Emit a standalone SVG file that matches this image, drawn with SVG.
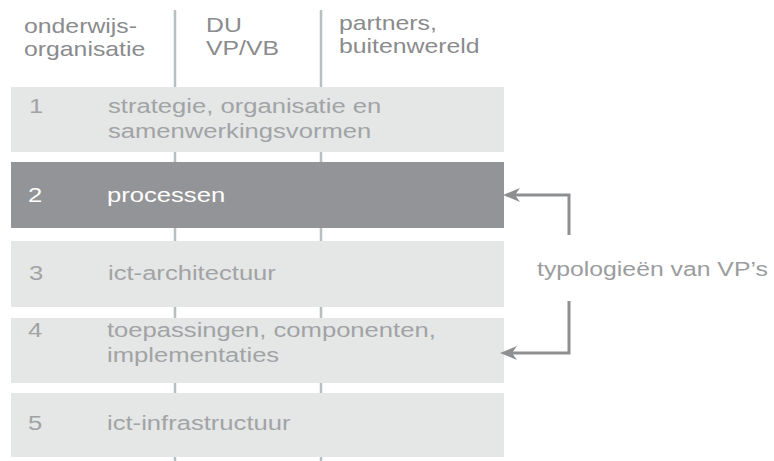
<svg xmlns="http://www.w3.org/2000/svg" width="774" height="461" viewBox="0 0 774 461">
  <style>
    text { font-family: "Liberation Sans", Arial, Helvetica, sans-serif; font-size: 21px; }
    .hdr { fill: #8a8b8d; font-size: 20px; }
    .lbl { fill: #a2a3a5; }
    .lbl-on { fill: #ffffff; }
    .note { fill: #9b9c9e; }
    .bar { fill: #e4e7e6; }
    .bar-on { fill: #939497; }
    .col { stroke: #b7c0c0; stroke-width: 2.5; fill: none; }
    .link { stroke: #8e8f91; stroke-width: 3; fill: none; }
  </style>
  <defs>
    <marker id="head" viewBox="0 0 17 14" refX="5" refY="7" markerWidth="17" markerHeight="14" markerUnits="userSpaceOnUse" orient="auto">
      <path d="M17,7 L0,0 L5,7 L0,14 Z" fill="#8e8f91"/>
    </marker>
  </defs>

  <rect width="774" height="461" fill="#ffffff"/>

  <!-- column dividers -->
  <g id="columns">
    <line class="col" x1="175" y1="10" x2="175" y2="461"/>
    <line class="col" x1="321" y1="10" x2="321" y2="461"/>
  </g>

  <!-- column headers -->
  <g id="header-onderwijs">
    <text class="hdr" transform="translate(24 33) scale(1.24 1)">onderwijs-</text>
    <text class="hdr" transform="translate(24 56) scale(1.24 1)">organisatie</text>
  </g>
  <g id="header-du">
    <text class="hdr" transform="translate(206 31.5) scale(1.24 1)">DU</text>
    <text class="hdr" transform="translate(206 54.5) scale(1.24 1)">VP/VB</text>
  </g>
  <g id="header-partners">
    <text class="hdr" transform="translate(339 30) scale(1.24 1)">partners,</text>
    <text class="hdr" transform="translate(339 53) scale(1.24 1)">buitenwereld</text>
  </g>

  <!-- layers -->
  <g id="layer-1">
    <rect class="bar" x="11" y="87" width="493" height="65"/>
    <text class="lbl" transform="translate(29 113) scale(1.22 1)">1</text>
    <text class="lbl" transform="translate(108 113) scale(1.22 1)">strategie, organisatie en</text>
    <text class="lbl" transform="translate(108 138) scale(1.22 1)">samenwerkingsvormen</text>
  </g>
  <g id="layer-2">
    <rect class="bar-on" x="11" y="162" width="493" height="66"/>
    <text class="lbl-on" transform="translate(28 202) scale(1.22 1)">2</text>
    <text class="lbl-on" transform="translate(107 202) scale(1.22 1)">processen</text>
  </g>
  <g id="layer-3">
    <rect class="bar" x="11" y="241" width="493" height="66"/>
    <text class="lbl" transform="translate(29 280) scale(1.22 1)">3</text>
    <text class="lbl" transform="translate(108 280) scale(1.22 1)">ict-architectuur</text>
  </g>
  <g id="layer-4">
    <rect class="bar" x="11" y="318" width="493" height="65"/>
    <text class="lbl" transform="translate(28 337) scale(1.22 1)">4</text>
    <text class="lbl" transform="translate(107 337) scale(1.22 1)">toepassingen, componenten,</text>
    <text class="lbl" transform="translate(107 362) scale(1.22 1)">implementaties</text>
  </g>
  <g id="layer-5">
    <rect class="bar" x="11" y="393" width="493" height="64"/>
    <text class="lbl" transform="translate(28 430) scale(1.22 1)">5</text>
    <text class="lbl" transform="translate(107 430) scale(1.22 1)">ict-infrastructuur</text>
  </g>

  <!-- typology label -->
  <g id="typologie">
    <text class="note" transform="translate(537 276) scale(1.18 1)">typologieën van VP’s</text>
  </g>

  <!-- connectors -->
  <g id="connectors">
    <polyline class="link" points="569,235 569,195 515,195" marker-end="url(#head)"/>
    <polyline class="link" points="569,301 569,353 512,353" marker-end="url(#head)"/>
  </g>
</svg>
